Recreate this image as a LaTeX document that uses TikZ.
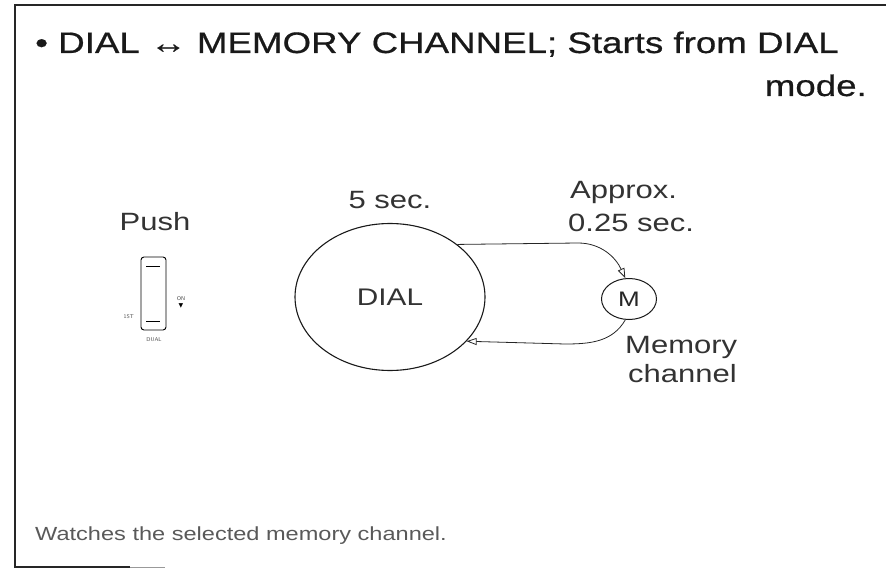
\documentclass[tikz,border=0pt]{standalone}
\usepackage{fontspec}
\setmainfont{Liberation Sans}
\newfontfamily\widesans[FakeStretch=1.24]{Liberation Sans}
\newfontfamily\widebold[FakeStretch=1.24,FakeBold=0.6]{Liberation Sans}
\newfontfamily\symfont{DejaVu Sans}
\usetikzlibrary{arrows.meta,shapes.geometric}
\begin{document}
\begin{tikzpicture}[x=1pt,y=-1pt,
  titletext/.style={inner sep=0pt, font=\widebold\fontsize{29.6}{34}\selectfont, text=black!90},
  lbl/.style={inner sep=0pt, font=\widesans\fontsize{25}{30}\selectfont, text=black!80},
  foot/.style={inner sep=0pt, font=\widesans\fontsize{19}{24}\selectfont, text=black!65},
  tiny/.style={inner sep=0pt, font=\sffamily\fontsize{5.5}{6}\selectfont, text=black!70},
  oval/.style={ellipse, draw=black!90, line width=1.1pt, inner sep=0pt, text depth=0pt},
  arr/.style={draw=black!85, line width=0.8pt, -{Triangle[open,length=10pt,width=7pt]}},
  frame/.style={draw=black!85, line width=1.1pt}]
\useasboundingbox (0,0) rectangle (886,575);
% frame
\draw[frame] (886,5) -- (15,5) -- (15,567) -- (130,567);
\draw[draw=black!40, line width=1pt] (130,567) -- (165,567);
% title
\node[titletext, anchor=base west] (title) at (35,53) {• DIAL ↔ MEMORY CHANNEL; Starts from DIAL};
\node[titletext, anchor=base east] (mode) at (867,96) {mode.};
% switch
\node[lbl, anchor=base] (push) at (155,230) {Push};
\draw[line width=0.9pt, rounded corners=3pt] (141,257) rectangle (166,330);
\draw[line width=0.9pt] (146,266) -- (160,266);
\draw[line width=0.9pt] (146,321) -- (160,321);
\node[tiny, anchor=base east] (first) at (134,318) {1ST};
\node[tiny, anchor=base] (on) at (181,300) {ON};
\node[inner sep=0pt, font=\symfont\fontsize{6}{6}\selectfont] (tri) at (181,306) {▼};
\node[tiny, anchor=base] (dual) at (154,341) {DUAL};
% main diagram
\node[lbl, anchor=base] (five) at (390,208) {5 sec.};
\node[oval, minimum width=190pt, minimum height=147pt, font=\widesans\fontsize{24}{28}\selectfont, text=black!80] (dial) at (390,297) {DIAL};
\node[oval, minimum width=55pt, minimum height=41pt, line width=1pt, font=\widesans\fontsize{21}{24}\selectfont, text=black!85] (m) at (629,299) {M};
\node[lbl, anchor=base west] (approx) at (570,198) {Approx.};
\node[lbl, anchor=base west] (quarter) at (568,231) {0.25 sec.};
\node[lbl, anchor=base west] (memory) at (625,353) {Memory};
\node[lbl, anchor=base west] (channel) at (628,382) {channel};
\coordinate (f1) at (578,243);
\coordinate (r1) at (565,344);
\draw[arr] (dial.38) -- (f1) to[out=0,in=115] (m.100);
\draw[arr] (m.-100) to[out=-120,in=0] (r1) -- (dial.-30);
% footer
\node[foot, anchor=base west] (footer) at (35,540) {Watches the selected memory channel.};
\end{tikzpicture}
\end{document}
